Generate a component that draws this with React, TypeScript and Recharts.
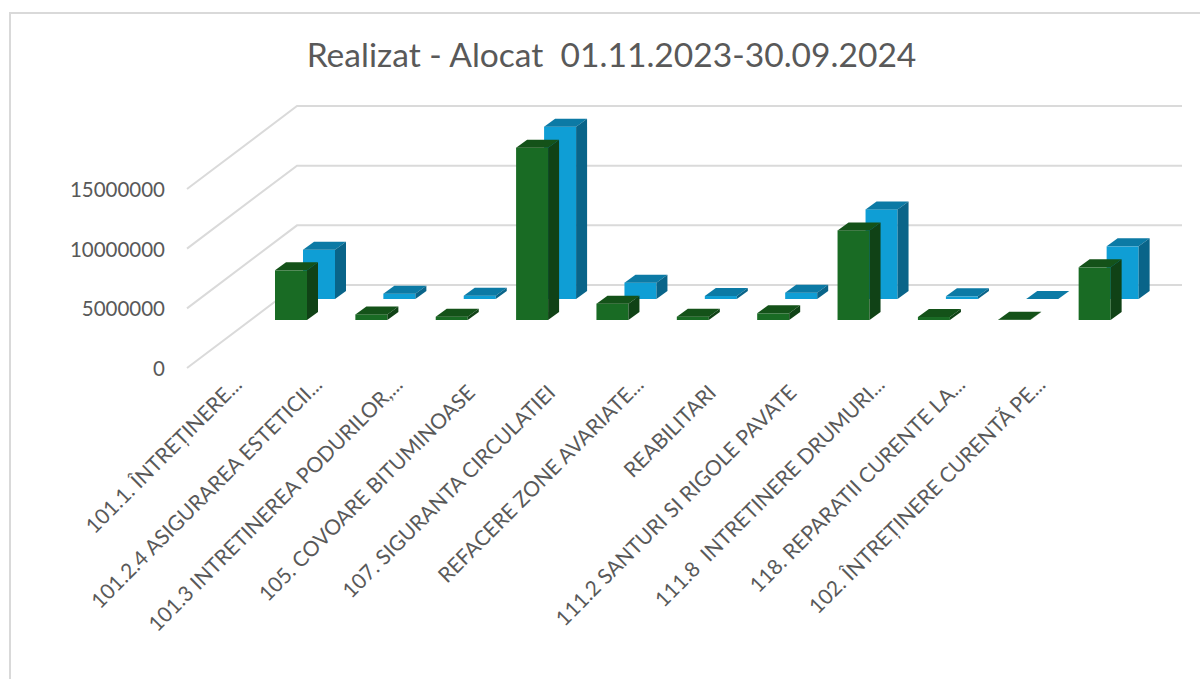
import { BarChart, Bar, XAxis, YAxis, CartesianGrid } from "recharts";

const categories = [
  "101.1. ÎNTREȚINERE...",
  "101.2.4 ASIGURAREA ESTETICII...",
  "101.3 INTRETINEREA PODURILOR,...",
  "105. COVOARE BITUMINOASE",
  "107. SIGURANTA CIRCULATIEI",
  "REFACERE ZONE AVARIATE...",
  "REABILITARI",
  "111.2 SANTURI SI RIGOLE PAVATE",
  "111.8  INTRETINERE DRUMURI...",
  "118. REPARATII CURENTE LA...",
  "102. ÎNTREȚINERE CURENTĂ PE...",
];
const realizat = [4160000, 470000, 280000, 14440000, 1370000, 280000, 560000, 7510000, 250000, 30000, 4410000];
const alocat = [4130000, 450000, 280000, 14440000, 1370000, 250000, 530000, 7510000, 220000, 10000, 4410000];
const yTicks = [0, 5000000, 10000000, 15000000];

const data = categories.map((name, i) => ({ name, realizat: realizat[i], alocat: alocat[i] }));

const FONT = "Lato, sans-serif";
const TEXT = "#595959";
const DEPTH_X = 11;
const DEPTH_Y = 8;

// excel style 3d column: front face + top + side, pushed back by dx/dy
function box(front: string, top: string, side: string, dx: number, dy: number) {
  return (props: any) => {
    const x = props.x + dx;
    const y = props.y + dy;
    const w = props.width;
    const h = props.height;
    const topFace = `${x},${y} ${x + DEPTH_X},${y - DEPTH_Y} ${x + w + DEPTH_X},${y - DEPTH_Y} ${x + w},${y}`;
    const sideFace = `${x + w},${y} ${x + w + DEPTH_X},${y - DEPTH_Y} ${x + w + DEPTH_X},${y + h - DEPTH_Y} ${x + w},${y + h}`;
    return (
      <g>
        <rect x={x} y={y} width={w} height={h} fill={front} />
        <polygon points={topFace} fill={top} />
        <polygon points={sideFace} fill={side} />
      </g>
    );
  };
}

const greenBox = box("#196B24", "#145219", "#104216", 0, -48);
const blueBox = box("#0F9ED5", "#0C7AA5", "#096489", 28, -69);

// gridline runs along the side wall, then across the back wall
function wallLine(props: any) {
  const { x1, x2, y1 } = props;
  return (
    <path
      key={`wall-${y1}`}
      d={`M${x1 - 64},${y1} L${x1 + 46},${y1 - 83} L${x2 + 47},${y1 - 83}`}
      fill="none"
      stroke="#dadada"
      strokeWidth={2}
    />
  );
}

function CategoryTick({ x, y, payload }: any) {
  // truncated labels reach a bit further along the slope than the full ones
  const cut = String(payload.value).endsWith("...");
  const tx = cut ? x - 48 : x - 56;
  const ty = cut ? y + 10 : y + 18;
  return (
    <text
      x={tx}
      y={ty}
      textAnchor="end"
      transform={`rotate(-45 ${tx} ${ty})`}
      fill={TEXT}
      fontFamily={FONT}
      fontSize={21}
      style={{ whiteSpace: "pre" }}
    >
      {payload.value}
    </text>
  );
}

function ValueTick({ y, payload }: any) {
  return (
    <text x={165} y={y + 8} textAnchor="end" fill={TEXT} fontFamily={FONT} fontSize={20.5}>
      {payload.value}
    </text>
  );
}

export default function App() {
  return (
    <div style={{ position: "absolute", left: 0, top: 0, width: 1200, height: 679, overflow: "hidden", background: "#fff" }}>
      <div
        style={{
          position: "absolute",
          left: 9,
          top: 12,
          right: 0,
          bottom: 0,
          borderTop: "2px solid #d9d9d9",
          borderLeft: "2px solid #d9d9d9",
        }}
      />
      <div
        style={{
          position: "absolute",
          left: 0,
          width: 1223,
          top: 34,
          textAlign: "center",
          fontFamily: FONT,
          fontSize: 33.6,
          color: TEXT,
          whiteSpace: "pre",
        }}
      >
        {"Realizat - Alocat  01.11.2023-30.09.2024"}
      </div>
      <div style={{ position: "absolute", left: 0, top: 0 }}>
        <BarChart
          width={1200}
          height={679}
          data={data}
          margin={{ top: 189, right: 65, bottom: 0, left: 0 }}
          barSize={32}
          barGap={-32}
        >
          <CartesianGrid vertical={false} horizontal={wallLine} />
          <XAxis
            dataKey="name"
            height={311}
            axisLine={false}
            tickLine={false}
            interval={0}
            tick={<CategoryTick />}
          />
          <YAxis
            width={251}
            domain={[0, 15000000]}
            ticks={yTicks}
            axisLine={false}
            tickLine={false}
            tick={<ValueTick />}
          />
          <Bar dataKey="alocat" shape={blueBox} isAnimationActive={false} />
          <Bar dataKey="realizat" shape={greenBox} isAnimationActive={false} />
        </BarChart>
      </div>
    </div>
  );
}
